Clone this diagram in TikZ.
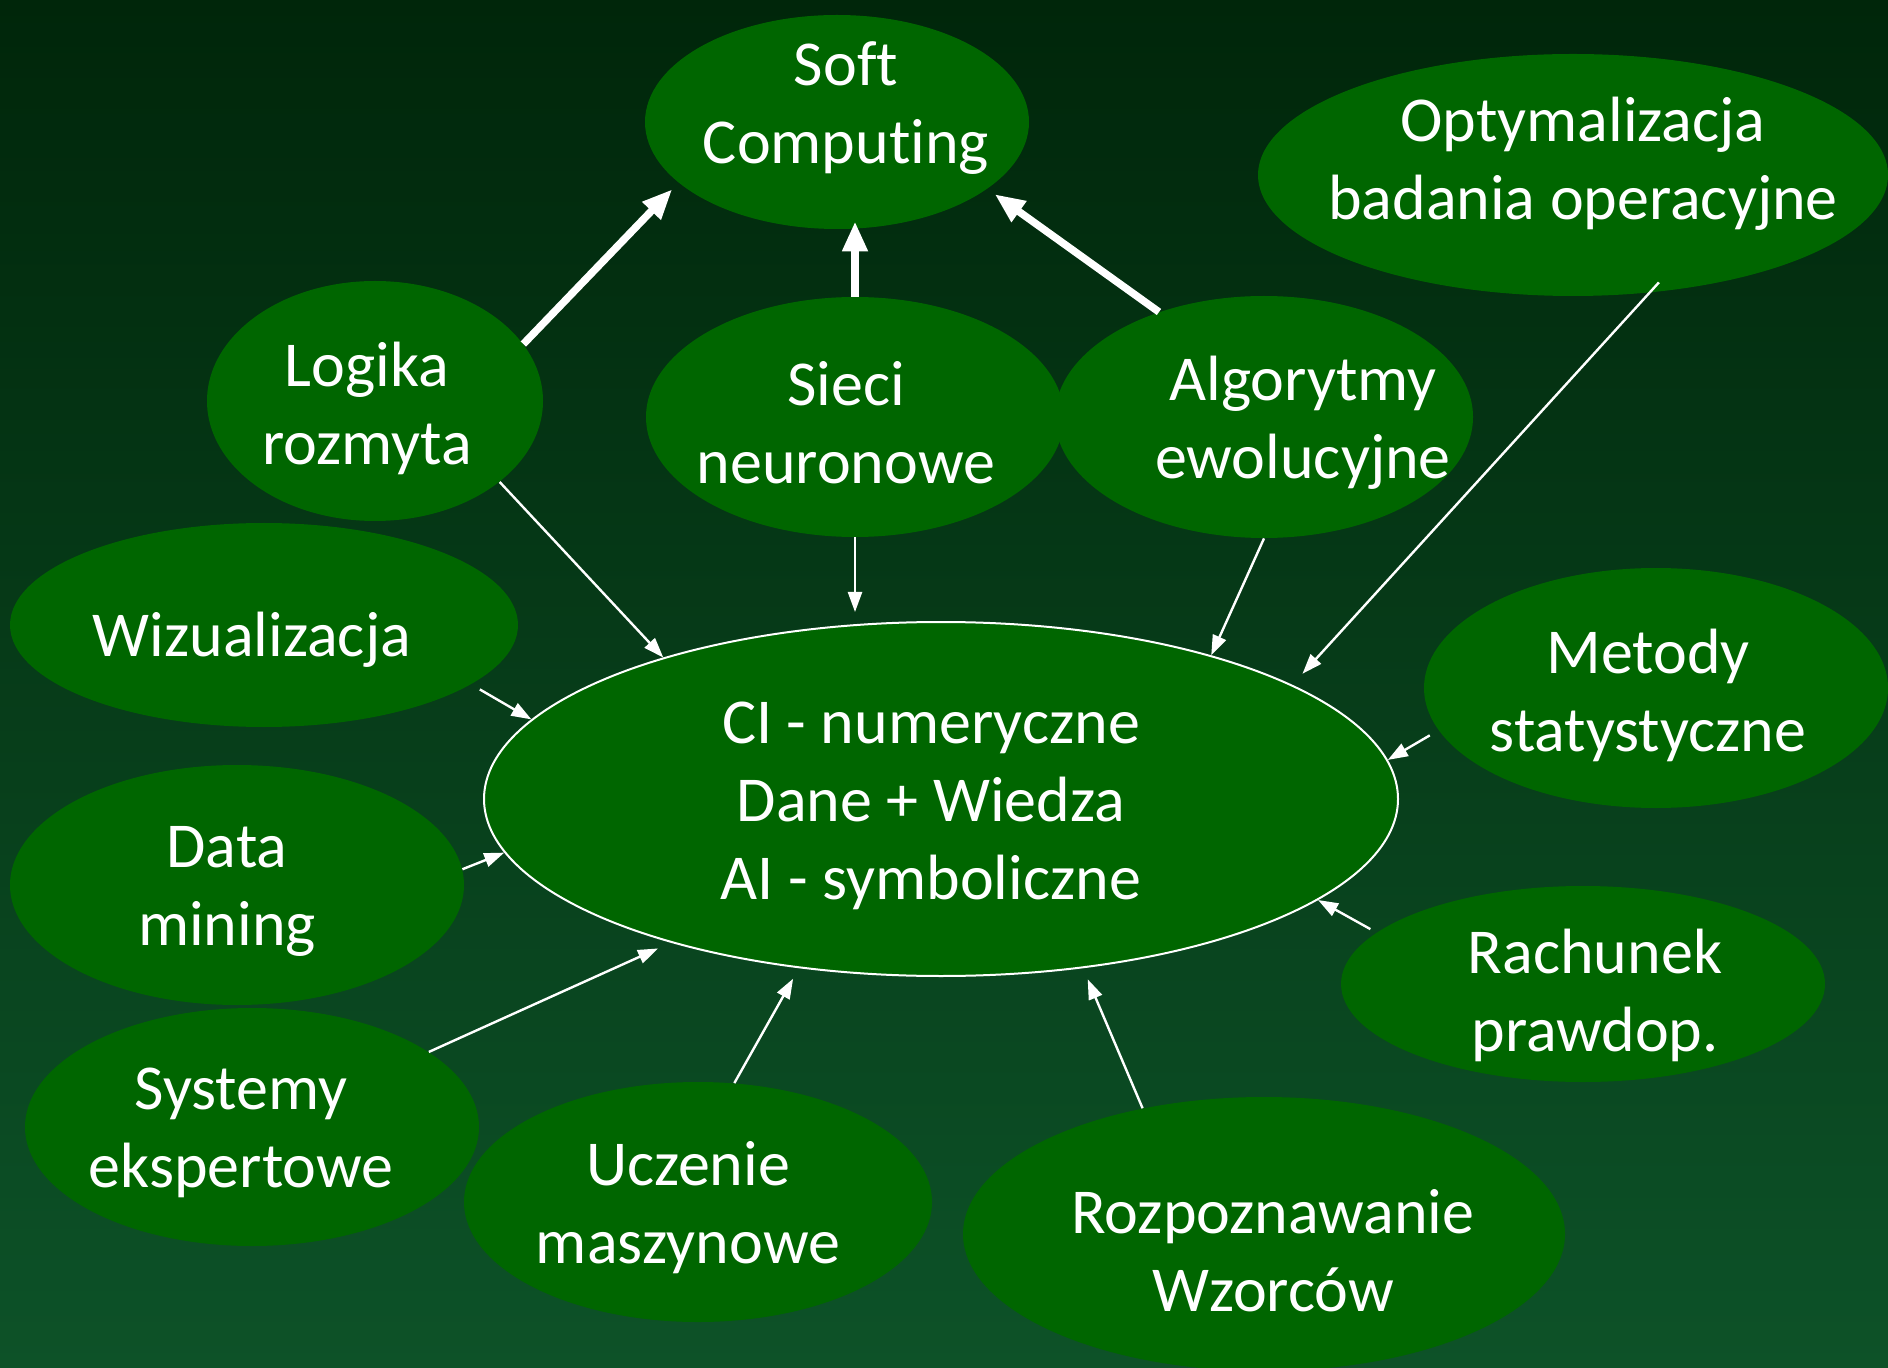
\documentclass[tikz,border=0pt]{standalone}
\usepackage{fontspec}
\setmainfont{Carlito}[Ligatures=NoCommon]
\usetikzlibrary{shapes.geometric,arrows.meta}
\definecolor{bgtop}{RGB}{0,38,10}
\definecolor{bgbot}{RGB}{13,82,40}
\definecolor{ellfill}{RGB}{0,102,0}
\begin{document}
\begin{tikzpicture}[x=0.5pt,y=-0.5pt,
  ell/.style={ellipse, fill=ellfill, inner sep=0pt, draw=none},
  lbl/.style={text=white, font=\fontsize{32}{39}\selectfont, align=center, inner sep=0pt, yshift=-2.5pt},
  thickarrow/.style={draw=white, line width=3.75pt, -{Triangle[length=15pt,width=12pt]}},
  thinarrow/.style={draw=white, line width=1.2pt, -{Triangle[length=10pt,width=7pt]}}]
\useasboundingbox (0,0) rectangle (1888,1368);
\shade[top color=bgtop, bottom color=bgbot] (0,0) rectangle (1888,1368);

% ellipses
\node[ell, minimum width=192pt, minimum height=107pt] (soft) at (837,122) {};
\node[ell, minimum width=315pt, minimum height=121pt] (opt) at (1573,175) {};
\node[ell, minimum width=168pt, minimum height=120pt] (logika) at (375,401) {};
\node[ell, minimum width=209pt, minimum height=120pt] (sieci) at (855,417) {};
\node[ell, minimum width=209pt, minimum height=121pt] (alg) at (1264,417) {};
\node[ell, minimum width=254pt, minimum height=102pt] (wiz) at (264,625) {};
\node[ell, minimum width=457pt, minimum height=177pt, draw=white, line width=1pt] (ci) at (941,799) {};
\node[ell, minimum width=232pt, minimum height=120pt] (metody) at (1656,688) {};
\node[ell, minimum width=227pt, minimum height=120pt] (data) at (237,885) {};
\node[ell, minimum width=242pt, minimum height=98pt] (rach) at (1583,984) {};
\node[ell, minimum width=227pt, minimum height=119pt] (sys) at (252,1127) {};
\node[ell, minimum width=234pt, minimum height=120pt] (ucz) at (698,1202) {};
\node[ell, minimum width=301pt, minimum height=137pt] (rozp) at (1264,1234) {};

% texts
\node[lbl] (tsoft) at (846,103) {Soft\\Computing};
\node[lbl] (topt) at (1583,159) {Optymalizacja\\badania operacyjne};
\node[lbl] (tlogika) at (367,403) {Logika\\rozmyta};
\node[lbl] (tsieci) at (846,418) {Sieci\\neuronowe};
\node[lbl] (talg) at (1303,418) {Algorytmy\\ewolucyjne};
\node[lbl] (twiz) at (252,635) {Wizualizacja};
\node[lbl] (tci) at (931,801) {CI - numeryczne\\Dane + Wiedza\\AI - symboliczne};
\node[lbl] (tmetody) at (1648,690) {Metody\\statystyczne};
\node[lbl] (tdata) at (227,886) {Data\\mining};
\node[lbl] (trach) at (1595,990) {Rachunek\\prawdop.};
\node[lbl] (tsys) at (241,1128) {Systemy\\ekspertowe};
\node[lbl] (tucz) at (688,1203) {Uczenie\\maszynowe};
\node[lbl] (trozp) at (1273,1246) {Rozpoznawanie\\Wzorców};

% thick arrows to Soft Computing
\draw[thickarrow, shorten >=4.5pt] (logika.21) -- (soft.201);
\draw[thickarrow, shorten >=-4pt] (sieci.north) -- (sieci.north |- soft.south);
\draw[thickarrow, shorten >=4.5pt] (alg.135) -- (soft.336);

% thin arrows to CI
\draw[thinarrow] (logika.327) -- (ci.153);
\draw[thinarrow, shorten >=4.5pt] (sieci.south) -- (sieci.south |- ci.north);
\draw[thinarrow] (alg.south) -- (ci.28);
\draw[thinarrow, shorten <=-7pt, shorten >=7.5pt] (opt.303) -- (ci.18);
\draw[thinarrow, shorten <=5pt] (wiz.344) -- (ci.169);
\draw[thinarrow, shorten <=5pt] (metody.191) -- (ci.5);
\draw[thinarrow] (data.4) -- (ci.187);
\draw[thinarrow, shorten <=3.5pt] (rach.166) -- (ci.345);
\draw[thinarrow, shorten >=7pt] (sys.23) -- (ci.208);
\draw[thinarrow, shorten >=6pt] (ucz.73) -- (ci.230);
\draw[thinarrow, shorten >=6pt] (rozp.134) -- (ci.310);
\end{tikzpicture}
\end{document}
